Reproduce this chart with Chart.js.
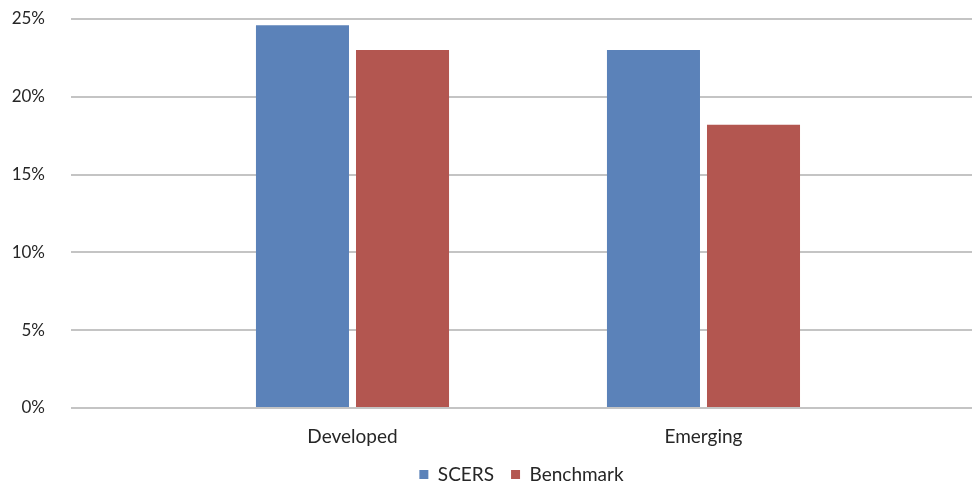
<!DOCTYPE html>
<html>
<head>
<meta charset="utf-8">
<script src="https://cdn.jsdelivr.net/npm/chart.js@4"></script>
<style>
  html, body { margin: 0; padding: 0; background: #fff; }
  #wrap { width: 972px; height: 485px; }
</style>
</head>
<body>
<div id="wrap"><canvas id="chart"></canvas></div>
<script>
const categories = ["Developed", "Emerging"];
const scers = [24.6, 23.0];
const benchmark = [23.0, 18.2];
const yTicks = [0, 5, 10, 15, 20, 25];

bar_chart();
function bar_chart() {
    const $chart = document.getElementById("chart");
    const ctx = $chart.getContext("2d");

    // bars sit on a linear x scale so the plot can run wider than the two groups
    const toPoints = (arr) => arr.map((v, i) => ({ x: i, y: v }));

    new Chart(ctx, {
        type: "bar",
        data: {
            datasets: [
                {
                    label: "SCERS",
                    data: toPoints(scers),
                    backgroundColor: "#5b82b9",
                },
                {
                    label: "Benchmark",
                    data: toPoints(benchmark),
                    backgroundColor: "#b35650",
                },
            ],
        },
        options: {
            responsive: true,
            maintainAspectRatio: false,
            animation: false,
            categoryPercentage: 0.57,
            barPercentage: 0.93,
            layout: { padding: { top: 0, right: 0, left: 0, bottom: -9 } },
            scales: {
                x: {
                    type: "linear",
                    offset: false,
                    min: -0.802,
                    max: 1.765,
                    grid: { display: false },
                    border: { display: false },
                    afterFit: (scale) => {
                        scale.height -= 8.8;
                    },
                    ticks: {
                        stepSize: 1,
                        includeBounds: false,
                        autoSkip: false,
                        maxRotation: 0,
                        padding: 9,
                        color: "#262626",
                        font: { family: "Lato", size: 19 },
                        callback: (v) => (Number.isInteger(v) && categories[v]) ? categories[v] : "",
                    },
                },
                y: {
                    min: 0,
                    max: 25,
                    afterBuildTicks: (scale) => {
                        scale.ticks = yTicks.map((v) => ({ value: v }));
                    },
                    afterFit: (scale) => {
                        scale.width = 71;
                        scale.paddingTop = 19;
                        scale.paddingBottom = 0;
                    },
                    grid: {
                        color: "#c4c4c4",
                        lineWidth: 2,
                        drawTicks: false,
                    },
                    border: { display: false },
                    ticks: {
                        padding: 26,
                        color: "#262626",
                        font: { family: "Lato", size: 17 },
                        callback: (v) => v + "%",
                    },
                },
            },
            plugins: {
                legend: {
                    position: "bottom",
                    fullSize: false,
                    labels: {
                        usePointStyle: true,
                        pointStyle: "rect",
                        boxWidth: 9,
                        boxHeight: 9,
                        padding: 17,
                        color: "#262626",
                        font: { family: "Lato", size: 19 },
                    },
                },
                tooltip: { enabled: false },
            },
        },
    });
}
</script>
</body>
</html>
